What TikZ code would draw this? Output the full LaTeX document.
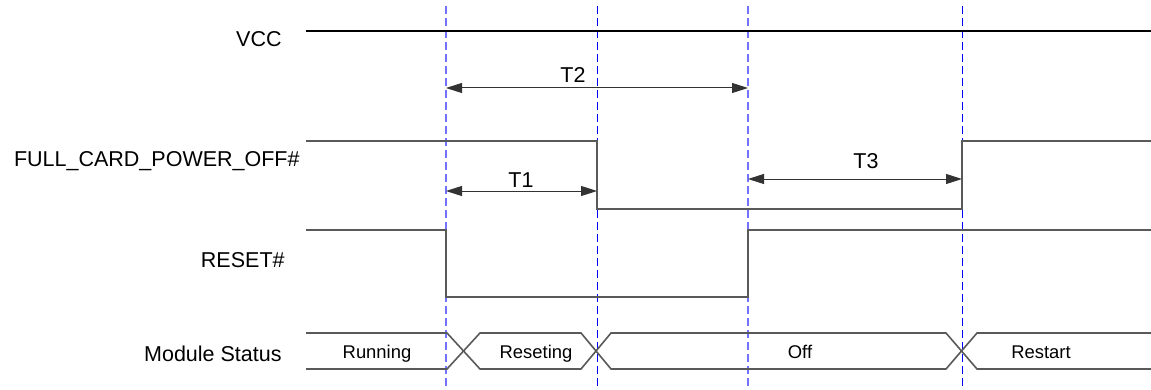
\documentclass[tikz,border=0pt]{standalone}
\usepackage{fontspec}
\setmainfont{Liberation Sans}
\usepackage{pgf,tikz}
\usetikzlibrary{arrows.meta, positioning}
\tikzstyle{senal} = [draw=black!65, line width=0.8pt]
\tikzstyle{vcc} = [draw=black, line width=0.55pt]
\tikzstyle{marca} = [draw=blue, line width=0.5pt, dash pattern=on 4pt off 2pt]
\tikzstyle{marcaclara} = [draw=blue!55, line width=0.8pt, dash pattern=on 4pt off 2pt]
\tikzstyle{cota} = [draw=black!80, line width=0.5pt, {Triangle[length=8pt,width=5pt]}-{Triangle[length=8pt,width=5pt]}]
\tikzstyle{nombre} = [anchor=base east, inner sep=0pt, font=\fontsize{10.75}{12}\selectfont]
\tikzstyle{estado} = [anchor=base, inner sep=0pt, font=\fontsize{9.2}{11}\selectfont]
\tikzstyle{tiempo} = [anchor=base, inner sep=0pt, font=\fontsize{10.75}{12}\selectfont]

\begin{document}
\begin{tikzpicture}[x=0.5pt, y=-0.5pt]
	\useasboundingbox (0,0) rectangle (1151,390);
	% nombres de las senales
	\node[nombre] (vccname) at (282,47) {VCC};
	\node[nombre] (fullname) at (300,167) {FULL\_CARD\_POWER\_OFF\#};
	\node[nombre] (resetname) at (285,267) {RESET\#};
	\node[nombre] (statusname) at (282,361) {Module Status};
	% lineas de tiempo
	\draw[marcaclara] (446,6) -- (446,387);
	\draw[marca] (597,6) -- (597,388);
	\draw[marcaclara] (748,6) -- (748,387);
	\draw[marca] (962,6) -- (962,386);
	% formas de onda
	\draw[vcc] (306,31) -- (1151,31);
	\draw[senal] (306,141) -- (597,141) -- (597,209) -- (962,209) -- (962,141) -- (1151,141);
	\draw[senal] (306,230) -- (446,230) -- (446,297) -- (748,297) -- (748,230) -- (1151,230);
	\draw[senal] (306,333) -- (447,333) -- (480,369) -- (581,369) -- (611,333) -- (946,333) -- (977,369) -- (1151,369);
	\draw[senal] (306,369) -- (447,369) -- (480,333) -- (581,333) -- (611,369) -- (946,369) -- (977,333) -- (1151,333);
	\node[estado] (running) at (377,358) {Running};
	\node[estado] (reseting) at (536,358) {Reseting};
	\node[estado] (off) at (800,358) {Off};
	\node[estado] (restart) at (1041,358) {Restart};
	% tiempos
	\coordinate (t2a) at (446,88);
	\coordinate (t2b) at (748,88);
	\coordinate (t1a) at (446,191);
	\coordinate (t1b) at (597,191);
	\coordinate (t3a) at (748,179);
	\coordinate (t3b) at (962,179);
	\draw[cota] (t2a) -- (t2b);
	\draw[cota] (t1a) -- (t1b);
	\draw[cota] (t3a) -- (t3b);
	\node[tiempo] (t2) at (573,83) {T2};
	\node[tiempo] (t1) at (521,187) {T1};
	\node[tiempo] (t3) at (866,169) {T3};
\end{tikzpicture}
\end{document}
